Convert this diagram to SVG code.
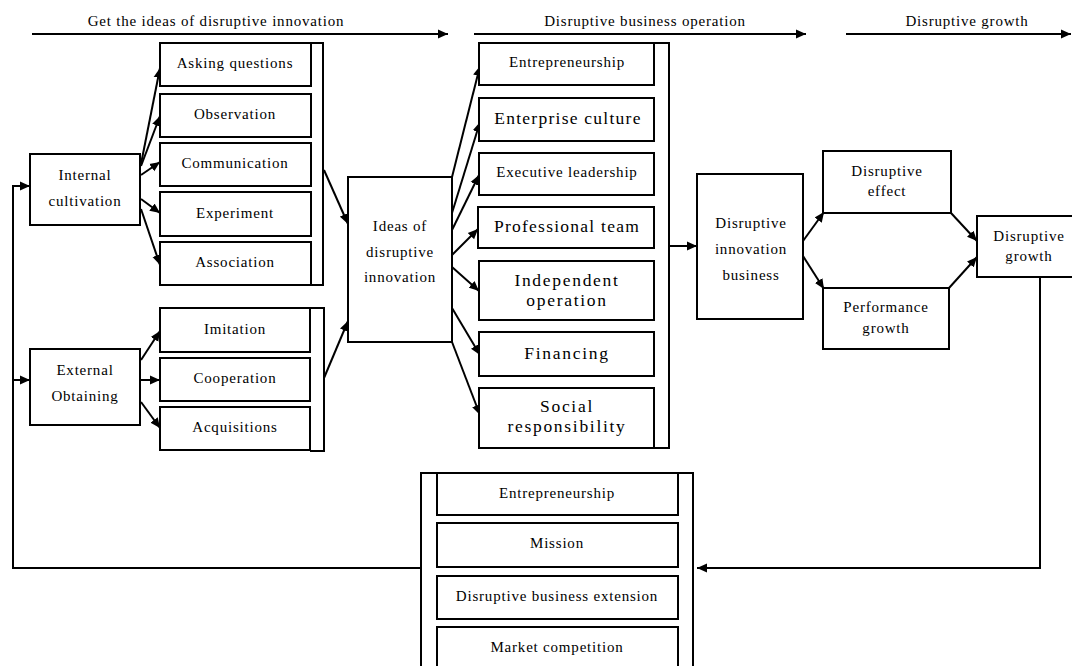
<svg xmlns="http://www.w3.org/2000/svg" width="1072" height="666" viewBox="0 0 1072 666">
<defs>
<marker id="ah" viewBox="0 0 10 10" refX="10" refY="5" markerWidth="10" markerHeight="10" markerUnits="userSpaceOnUse" orient="auto">
<path d="M0,0.5 L10,5 L0,9.5 z" fill="#000"/>
</marker>
<style>
.b{fill:#fff;stroke:#000;stroke-width:2}
.t{font-family:"Liberation Serif","Times New Roman",serif;font-size:15px;letter-spacing:0.8px;fill:#000;text-anchor:middle;dominant-baseline:central}
.L{font-size:17.5px;letter-spacing:1.25px}
.W{font-size:17.5px;letter-spacing:1.7px}
.c{fill:none;stroke:#000;stroke-width:2}
.a{fill:none;stroke:#000;stroke-width:2;marker-end:url(#ah)}
</style>
</defs>
<rect width="1072" height="666" fill="#fff"/>

<g id="phases">
<text class="t" x="216" y="21">Get the ideas of disruptive innovation</text>
<text class="t" x="645" y="21">Disruptive business operation</text>
<text class="t" x="967" y="21">Disruptive growth</text>
</g>

<g id="connectors">
<path class="a" d="M32,34 H448"/>
<path class="a" d="M474,34 H806"/>
<path class="a" d="M846,34 H1071"/>
<path class="a" d="M141,164 L160,68"/>
<path class="a" d="M141,166 L160,116"/>
<path class="a" d="M141,175 L160,162"/>
<path class="a" d="M141,199 L160,213"/>
<path class="a" d="M141,209 L160,265"/>
<path class="a" d="M141,360 L160,331"/>
<path class="a" d="M141,380 L160,380"/>
<path class="a" d="M141,402 L160,428"/>
<path class="a" d="M324,170 L348,224"/>
<path class="a" d="M324,378 L348,321"/>
<path class="a" d="M452,177 L480,66"/>
<path class="a" d="M452,213 L480,122"/>
<path class="a" d="M452,230 L479,175"/>
<path class="a" d="M452,255 L478,229"/>
<path class="a" d="M452,267 L479,291"/>
<path class="a" d="M452,308 L480,355"/>
<path class="a" d="M452,342 L480,415"/>
<path class="a" d="M670,246 H697"/>
<path class="a" d="M803,241 L824,212"/>
<path class="a" d="M803,256 L824,289"/>
<path class="a" d="M951,213 L977,241"/>
<path class="a" d="M949,288 L977,257"/>
<path class="a" d="M1040,277 V568 H697"/>
<path class="c" d="M420,568 H13 V186"/>
<path class="a" d="M12,186 H30"/>
<path class="a" d="M13,380 H30"/>
</g>

<g id="internal-cultivation">
<rect class="b" x="30" y="154" width="110" height="71"/>
<text class="t" x="85" y="175">Internal</text>
<text class="t" x="85" y="201">cultivation</text>
</g>
<g id="external-obtaining">
<rect class="b" x="30" y="349" width="110" height="76"/>
<text class="t" x="85" y="370">External</text>
<text class="t" x="85" y="396">Obtaining</text>
</g>

<g id="internal-group">
<path class="c" d="M311,43 H323 V285 H311"/>
<g id="asking-questions"><rect class="b" x="160" y="43" width="151" height="43"/><text class="t" x="235" y="63">Asking questions</text></g>
<g id="observation"><rect class="b" x="160" y="94" width="151" height="43"/><text class="t" x="235" y="114">Observation</text></g>
<g id="communication"><rect class="b" x="160" y="143" width="151" height="43"/><text class="t" x="235" y="163">Communication</text></g>
<g id="experiment"><rect class="b" x="160" y="192" width="151" height="44"/><text class="t" x="235" y="213">Experiment</text></g>
<g id="association"><rect class="b" x="160" y="242" width="151" height="43"/><text class="t" x="235" y="262">Association</text></g>
</g>

<g id="external-group">
<path class="c" d="M310,308 H324 V451 H310"/>
<g id="imitation"><rect class="b" x="160" y="308" width="150" height="44"/><text class="t" x="235" y="329">Imitation</text></g>
<g id="cooperation"><rect class="b" x="160" y="358" width="150" height="43"/><text class="t" x="235" y="378">Cooperation</text></g>
<g id="acquisitions"><rect class="b" x="160" y="407" width="150" height="43"/><text class="t" x="235" y="427">Acquisitions</text></g>
</g>

<g id="ideas">
<rect class="b" x="348" y="177" width="104" height="165"/>
<text class="t" x="400" y="226">Ideas of</text>
<text class="t" x="400" y="252">disruptive</text>
<text class="t" x="400" y="277">innovation</text>
</g>

<g id="operation-group">
<path class="c" d="M654,43 H669 V448 H654"/>
<g id="entrepreneurship-1"><rect class="b" x="479" y="43" width="175" height="42"/><text class="t" x="567" y="62">Entrepreneurship</text></g>
<g id="enterprise-culture"><rect class="b" x="479" y="98" width="175" height="43"/><text class="t L" x="568" y="118">Enterprise culture</text></g>
<g id="executive-leadership"><rect class="b" x="479" y="153" width="175" height="42"/><text class="t" x="567" y="172">Executive leadership</text></g>
<g id="professional-team"><rect class="b" x="478" y="207" width="176" height="41"/><text class="t L" x="567" y="226">Professional team</text></g>
<g id="independent-operation"><rect class="b" x="479" y="261" width="175" height="59"/><text class="t W" x="567" y="280">Independent</text><text class="t W" x="567" y="300">operation</text></g>
<g id="financing"><rect class="b" x="479" y="332" width="175" height="44"/><text class="t W" x="567" y="353">Financing</text></g>
<g id="social-responsibility"><rect class="b" x="479" y="388" width="175" height="60"/><text class="t W" x="567" y="406">Social</text><text class="t W" x="567" y="426">responsibility</text></g>
</g>

<g id="disruptive-innovation-business">
<rect class="b" x="697" y="174" width="106" height="145"/>
<text class="t" x="751" y="223">Disruptive</text>
<text class="t" x="751" y="249">innovation</text>
<text class="t" x="751" y="275">business</text>
</g>
<g id="disruptive-effect">
<rect class="b" x="823" y="151" width="128" height="62"/>
<text class="t" x="887" y="171">Disruptive</text>
<text class="t" x="887" y="191">effect</text>
</g>
<g id="performance-growth">
<rect class="b" x="823" y="288" width="126" height="61"/>
<text class="t" x="886" y="307">Performance</text>
<text class="t" x="886" y="328">growth</text>
</g>
<g id="disruptive-growth">
<rect class="b" x="977" y="216" width="98" height="61"/>
<text class="t" x="1029" y="236">Disruptive</text>
<text class="t" x="1029" y="256">growth</text>
</g>

<g id="growth-group">
<path class="c" d="M436,473 H421 V667"/>
<path class="c" d="M678,473 H693 V667"/>
<g id="entrepreneurship-2"><rect class="b" x="437" y="473" width="241" height="42"/><text class="t" x="557" y="493">Entrepreneurship</text></g>
<g id="mission"><rect class="b" x="437" y="523" width="241" height="44"/><text class="t" x="557" y="543">Mission</text></g>
<g id="disruptive-business-extension"><rect class="b" x="437" y="576" width="241" height="43"/><text class="t" x="557" y="596">Disruptive business extension</text></g>
<g id="market-competition"><rect class="b" x="437" y="627" width="241" height="50"/><text class="t" x="557" y="647">Market competition</text></g>
</g>
</svg>
